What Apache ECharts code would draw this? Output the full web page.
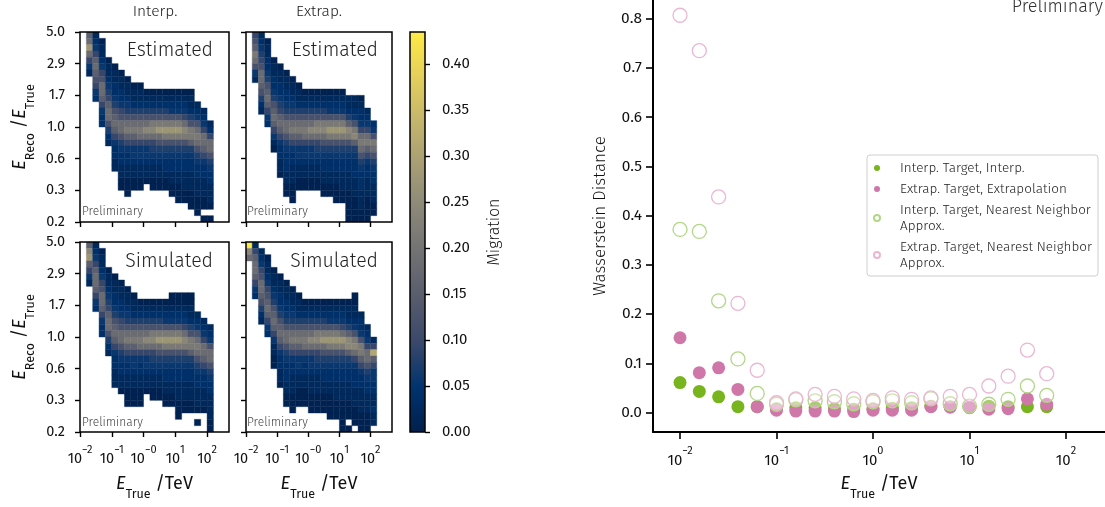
<!DOCTYPE html>
<html><head><meta charset="utf-8">
<script src="https://cdn.jsdelivr.net/npm/echarts@6/dist/echarts.min.js"></script>
<style>html,body{margin:0;padding:0;background:#fff}#c{width:1105px;height:507px}</style>
</head><body><div id="c"></div>
<script>
// ---------------- DATA ----------------
// E_True bin edges (TeV)
const eTrueEdges = [0.01585,0.02512,0.03981,0.0631,0.1,0.1585,0.2512,0.3981,0.631,1,1.585,2.512,3.981,6.31,10,15.85,25.12,39.81,63.1,100,158.5];
const eTrueEdgesExtrapSim = [0.01,0.01585,0.02512,0.03981,0.0631,0.1,0.1585,0.2512,0.3981,0.631,1,1.585,2.512,3.981,6.31,10,15.85,25.12,39.81,63.1,100,158.5];
// E_Reco/E_True bin edges
const ratioEdges = [0.2,0.22265,0.24787,0.27594,0.3072,0.34199,0.38073,0.42385,0.47186,0.5253,0.5848,0.65104,0.72478,0.80687,0.89826,1.0,1.11326,1.23935,1.37973,1.536,1.70998,1.90365,2.11926,2.35929,2.62652,2.92402,3.2552,3.6239,4.03436,4.4913,5.0];
// migration value per code letter ('.' = empty bin)
const migrationLevels = {'0':0.006,'1':0.022,'2':0.04,'3':0.057,'4':0.075,'5':0.095,'6':0.122,'7':0.152,'8':0.182,'9':0.212,'a':0.242,'b':0.275,'c':0.31,'d':0.35,'e':0.39,'f':0.435};
// each string = one E_True column, from top (E_Reco/E_True = 5) downward
const interpEstimated = [
"78b8531","12357876532",".01123568875322","....01123457886421",".....01122346787532211",
"......0112235688643221100",".......0112346897532211000","........01124689753321100","........01124689853321100",".........012468a85332110",
".........012469a854321100",".........012469b864321100",".........012469b964322100",".........012369b9643221100",".........012369b96432211000",
".........012358a96432211100",".........0112469974322111000","...........123689864322111000","............1235887532211100.0","..............12588643221110.0"];
const extrapEstimated = [
"56798631","1234568876421",".01122346787532","....011223467875310",".....011223457875322110",
"......01122346886432221100",".......01123468975322111000","........01124689753321100",".........0124689853321100",".........012468a853321100",
".........012469a854321100",".........012469a8643221100",".........012369b9643221100",".........012369b96432211000",".........012369b96432211100",
"..........11247a96432211100000","..........112369a7432221110000","..........01223589864322211100","............123589753221110000","..............236986432211100"];
const interpSimulated = [
"7ab7531","12357887532",".01123568875322","....01123457886421",".....011223467875322111",
"......011223568864322110",".......0112346897532211000","........011246897533211000",".........01246898532211000",".........012468a85332110",
".........012469a854321100",".........012469b864321100",".........012369b9643221100","........0012369b9643221100","........0012369b964322111000",
"........0012358a96432211100","........0011246997432211100","...........1236898643221110.0","............123588753221110",".............12368864322111100"];
const extrapSimulated = [
"fa8","157887532",".123568876421","..0112356787532","....0112346787531100",".....011223467875322110",
"......01122346886432221100",".......01123468975322111000","........011246897533211000",".........01246898532211000",".........012468a85332111000",
".........012469a85432111000",".........012469b86432211000",".........012369b964322110000",".........012369b964322111000",".........012358b96432211100000",
".........011247aa74322111000.0","........00112369a853222111000","...........1223699753221111000",".............12358864322111000","...............15c75332211211"];

const heatXTicks = [0.01,0.1,1,10,100];
const heatXTickExp = ['\u22122','\u22121','\u22120','1','2'];
const ratioTicks = [0.2,0.342,0.5848,1.0,1.71,2.924,5.0];
const ratioTickLabels = ['0.2','0.3','0.6','1.0','1.7','2.9','5.0'];
const colorbarTicks = [0,0.05,0.1,0.15,0.2,0.25,0.3,0.35,0.4];
const migrationRange = [0, 0.435];

// Wasserstein distance panel
const scatterE = [0.01,0.01585,0.02512,0.03981,0.0631,0.1,0.1585,0.2512,0.3981,0.631,1,1.585,2.512,3.981,6.31,10,15.85,25.12,39.81,63.1];
const interpTargetInterp = [0.061,0.043,0.032,0.012,0.012,0.008,0.010,0.010,0.008,0.007,0.008,0.009,0.010,0.013,0.012,0.010,0.013,0.012,0.012,0.012];
const extrapTargetExtrap = [0.152,0.081,0.091,0.047,0.012,0.005,0.003,0.003,0.003,0.002,0.005,0.005,0.005,0.012,0.011,0.011,0.007,0.008,0.028,0.017];
const interpTargetNN = [0.372,0.368,0.227,0.109,0.039,0.017,0.026,0.024,0.022,0.018,0.022,0.024,0.020,0.028,0.018,0.013,0.017,0.027,0.054,0.035];
const extrapTargetNN = [0.807,0.735,0.438,0.222,0.086,0.020,0.028,0.037,0.033,0.028,0.025,0.030,0.027,0.030,0.033,0.037,0.054,0.074,0.127,0.079];
const seriesNames = ['Interp. Target, Interp.','Extrap. Target, Extrapolation','Interp. Target, Nearest Neighbor Approx.','Extrap. Target, Nearest Neighbor Approx.'];
const scatterXTicks = [0.01,0.1,1,10,100];
const scatterXTickExp = ['\u22122','\u22121','0','1','2'];
const distTicks = [0,0.1,0.2,0.3,0.4,0.5,0.6,0.7,0.8];

// ---------------- STYLE / BUILD ----------------
const FONT = "'Fira Sans', Roboto, 'Open Sans', 'Noto Sans', sans-serif";
const cividis = ['#00204D','#00336F','#39486B','#575C6D','#707173','#8A8779','#A69D75','#C4B56C','#E4CF5B','#FFEA46'];
const cmap = v => echarts.color.lerp(Math.max(0, Math.min(1, (v - migrationRange[0]) / (migrationRange[1] - migrationRange[0]))), cividis);

function cells(cols, xEdges) {
  const out = [];
  cols.forEach((s, c) => {
    for (let t = 0; t < s.length; t++) {
      const ch = s[t];
      if (ch === '.') continue;
      const r = ratioEdges.length - 2 - t;
      out.push([xEdges[c], xEdges[c + 1], ratioEdges[r], ratioEdges[r + 1], migrationLevels[ch]]);
    }
  });
  return out;
}

const supRich = (b, s) => ({
  b: {fontFamily: FONT, fontSize: b, color: '#111', lineHeight: b + 8, verticalAlign: 'bottom'},
  s: {fontFamily: FONT, fontSize: s, color: '#111', lineHeight: s, verticalAlign: 'top'}
});
const subRich = (b, s) => ({
  it: {fontFamily: FONT, fontStyle: 'italic', fontSize: b, color: '#111', lineHeight: b + 8, verticalAlign: 'top'},
  n: {fontFamily: FONT, fontSize: b, color: '#111', lineHeight: b + 8, verticalAlign: 'top'},
  sub: {fontFamily: FONT, fontSize: s, color: '#111', lineHeight: s, verticalAlign: 'bottom'}
});
const findIdx = (arr, v) => arr.findIndex(t => Math.abs(Math.log10(t) - Math.log10(v)) < 1e-6);

const panels = [
  {data: interpEstimated, edges: eTrueEdges, left: 80, top: 32, width: 149, xl: false, yl: true},
  {data: extrapEstimated, edges: eTrueEdges, left: 246, top: 32, width: 146, xl: false, yl: false},
  {data: interpSimulated, edges: eTrueEdges, left: 80, top: 242, width: 149, xl: true, yl: true},
  {data: extrapSimulated, edges: eTrueEdgesExtrapSim, left: 246, top: 242, width: 146, xl: true, yl: false}
];

const grid = [], xAxis = [], yAxis = [], series = [];
const tickStyle = {color: '#000', width: 1.4};

panels.forEach((p, i) => {
  grid.push({left: p.left, top: p.top, width: p.width, height: 190, show: true, borderColor: '#000', borderWidth: 1.5, backgroundColor: 'rgba(0,0,0,0)', z: 10});
  xAxis.push({
    type: 'log', gridIndex: i, logBase: 10, min: 0.01, max: 489.8,
    axisLine: {show: false, onZero: false}, splitLine: {show: false}, minorTick: {show: false},
    axisTick: {show: true, inside: false, length: 5, lineStyle: tickStyle, customValues: heatXTicks},
    axisLabel: {show: p.xl, margin: 12, customValues: heatXTicks,
      formatter: v => { const k = findIdx(heatXTicks, v); return k < 0 ? '' : '{b|10}{s|' + heatXTickExp[k] + '}'; },
      rich: supRich(14.5, 11)},
    name: p.xl ? '{it|E}{sub|True}{n| /TeV}' : '', nameLocation: 'middle', nameGap: 43,
    nameTextStyle: {rich: subRich(18, 12.5)}
  });
  yAxis.push({
    type: 'log', gridIndex: i, logBase: 10, min: 0.2, max: 5,
    axisLine: {show: false, onZero: false}, splitLine: {show: false}, minorTick: {show: false},
    axisTick: {show: true, inside: false, length: 5, lineStyle: tickStyle, customValues: ratioTicks},
    axisLabel: {show: p.yl, margin: 15, customValues: ratioTicks, fontFamily: FONT, fontSize: 14.5, color: '#111',
      formatter: v => { const k = findIdx(ratioTicks, v); return k < 0 ? '' : ratioTickLabels[k]; }},
    name: p.yl ? '{it|E}{sub|Reco}{n| /}{it|E}{sub|True}' : '', nameLocation: 'middle', nameRotate: 90, nameGap: 43,
    nameTextStyle: {rich: subRich(18, 12.5)}
  });
  series.push({
    type: 'custom', xAxisIndex: i, yAxisIndex: i, coordinateSystem: 'cartesian2d', clip: true,
    data: cells(p.data, p.edges), encode: {x: [0, 1], y: [2, 3]}, silent: true, z: 2,
    renderItem: (params, api) => {
      const a = api.coord([api.value(0), api.value(3)]);
      const b = api.coord([api.value(1), api.value(2)]);
      const col = cmap(api.value(4));
      return {type: 'rect', shape: {x: a[0], y: a[1], width: b[0] - a[0], height: b[1] - a[1]}, style: {fill: col, stroke: col, lineWidth: 0.4}};
    }
  });
});

// colorbar
grid.push({left: 410, top: 32, width: 15, height: 400, show: true, borderColor: '#000', borderWidth: 1.5, backgroundColor: 'rgba(0,0,0,0)', z: 10});
xAxis.push({type: 'category', gridIndex: 4, data: ['m'], show: false});
yAxis.push({
  type: 'value', gridIndex: 4, min: migrationRange[0], max: migrationRange[1], position: 'right',
  axisLine: {show: false}, splitLine: {show: false},
  axisTick: {show: true, inside: false, length: 5, lineStyle: tickStyle, customValues: colorbarTicks},
  axisLabel: {margin: 17, customValues: colorbarTicks, fontFamily: FONT, fontSize: 15, color: '#111', formatter: v => v.toFixed(2)},
  name: 'Migration', nameLocation: 'middle', nameRotate: 90, nameGap: 62,
  nameTextStyle: {fontFamily: FONT, fontSize: 16, fontWeight: 300, color: '#111'}
});
series.push({
  type: 'bar', xAxisIndex: 4, yAxisIndex: 4, data: [migrationRange[1]], barWidth: '100%', silent: true,
  itemStyle: {color: new echarts.graphic.LinearGradient(0, 1, 0, 0, cividis.map((c, k) => ({offset: k / (cividis.length - 1), color: c})))}
});

// Wasserstein scatter
grid.push({left: 653, top: 0, right: 0, height: 432, show: false});
xAxis.push({
  type: 'log', gridIndex: 5, logBase: 10, min: 0.005248, max: 253.6,
  axisLine: {show: true, onZero: false, lineStyle: {color: '#000', width: 2}}, splitLine: {show: false}, minorTick: {show: false},
  axisTick: {show: true, inside: false, length: 7, lineStyle: {color: '#000', width: 1.6}, customValues: scatterXTicks},
  axisLabel: {margin: 13, customValues: scatterXTicks,
    formatter: v => { const k = findIdx(scatterXTicks, v); return k < 0 ? '' : '{b|10}{s|' + scatterXTickExp[k] + '}'; },
    rich: supRich(15, 11)},
  name: '{it|E}{sub|True}{n| /TeV}', nameLocation: 'middle', nameGap: 43,
  nameTextStyle: {rich: subRich(18, 12.5)}
});
yAxis.push({
  type: 'value', gridIndex: 5, min: -0.0394, max: 0.838,
  axisLine: {show: true, onZero: false, lineStyle: {color: '#000', width: 2}}, splitLine: {show: false},
  axisTick: {show: true, inside: false, length: 7, lineStyle: {color: '#000', width: 1.6}, customValues: distTicks},
  axisLabel: {margin: 11, customValues: distTicks, fontFamily: FONT, fontSize: 15.5, color: '#111', formatter: v => v.toFixed(1)},
  name: 'Wasserstein Distance', nameLocation: 'middle', nameRotate: 90, nameGap: 44,
  nameTextStyle: {fontFamily: FONT, fontSize: 17, fontWeight: 300, color: '#111'}
});
const scatterDefs = [
  {vals: interpTargetInterp, size: 13, style: {color: '#78b41d'}},
  {vals: extrapTargetExtrap, size: 13, style: {color: '#cf77a9'}},
  {vals: interpTargetNN, size: 14, style: {color: 'rgba(255,255,255,0.35)', borderColor: '#b2d687', borderWidth: 1.3}},
  {vals: extrapTargetNN, size: 14, style: {color: 'rgba(255,255,255,0.35)', borderColor: '#ebb6d2', borderWidth: 1.3}}
];
scatterDefs.forEach((d, k) => {
  series.push({
    type: 'scatter', name: seriesNames[k], xAxisIndex: 5, yAxisIndex: 5, symbol: 'circle', symbolSize: d.size,
    data: scatterE.map((e, j) => [e, d.vals[j]]), itemStyle: Object.assign({opacity: 1}, d.style), z: 3 + k
  });
});

const T = (x, y, text, opt) => ({type: 'text', x, y, z: 100, silent: true,
  style: Object.assign({text, fill: '#222', font: '300 13px ' + FONT, textAlign: 'left', textVerticalAlign: 'middle'}, opt || {})});

const option = {
  animation: false,
  backgroundColor: '#fff',
  grid, xAxis, yAxis, series,
  legend: {
    show: true, orient: 'vertical', left: 867, top: 155, padding: [5, 6, 5, 6],
    itemWidth: 10, itemHeight: 6, itemGap: 5,
    borderColor: '#cfcfcf', borderWidth: 1, borderRadius: 3, backgroundColor: 'rgba(255,255,255,0.8)',
    data: seriesNames,
    formatter: n => n.replace(' Approx.', '\nApprox.'),
    textStyle: {fontFamily: FONT, fontSize: 13.5, fontWeight: 300, color: '#222', lineHeight: 16, padding: [0, 0, 0, 13]}
  },
  graphic: [
    T(155, 12, 'Interp.', {textAlign: 'center', font: '300 15.5px ' + FONT}),
    T(319, 12, 'Extrap.', {textAlign: 'center', font: '300 15.5px ' + FONT}),
    T(213, 51, 'Estimated', {textAlign: 'right', font: '300 19.5px ' + FONT}),
    T(378, 51, 'Estimated', {textAlign: 'right', font: '300 19.5px ' + FONT}),
    T(213, 262, 'Simulated', {textAlign: 'right', font: '300 19.5px ' + FONT}),
    T(378, 262, 'Simulated', {textAlign: 'right', font: '300 19.5px ' + FONT}),
    T(82, 212, 'Preliminary', {font: '300 12px ' + FONT, fill: '#444'}),
    T(247, 212, 'Preliminary', {font: '300 12px ' + FONT, fill: '#444'}),
    T(82, 423, 'Preliminary', {font: '300 12px ' + FONT, fill: '#444'}),
    T(247, 423, 'Preliminary', {font: '300 12px ' + FONT, fill: '#444'}),
    T(1103, 7, 'Preliminary', {textAlign: 'right', font: '300 18px ' + FONT, fill: '#333'})
  ]
};
const chart = echarts.init(document.getElementById('c'));
chart.setOption(option);
</script></body></html>
